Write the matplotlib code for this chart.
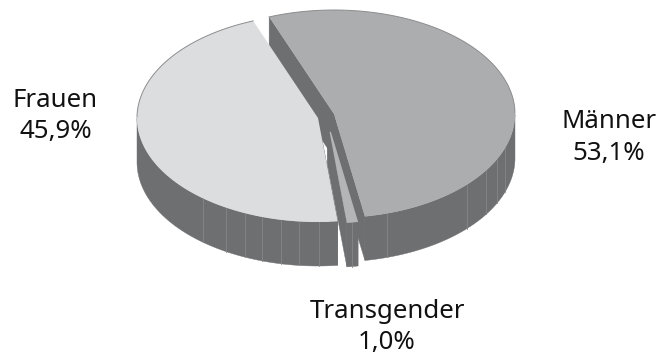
import numpy as np
import matplotlib
matplotlib.use("Agg")
import matplotlib.pyplot as plt
from matplotlib.patches import Polygon

categories = ["Männer", "Transgender", "Frauen"]
shares = [53.1, 1.0, 45.9]
labels = ["Männer\n53,1%", "Transgender\n1,0%", "Frauen\n45,9%"]

# layout: pixel canvas, projected pie
START = 111.0
RX, RY, DEPTH = 181.0, 104.0, 44.0
TIPS = {"Männer": (334, 114), "Transgender": (327.2, 119.5), "Frauen": (318, 118)}
TOP = {"Männer": "#acadaf", "Transgender": "#b4b5b7", "Frauen": "#dcddde"}
FACET_X = {"Männer": [387, 467, 486, 497, 505], "Transgender": [352],
           "Frauen": [203, 226, 245, 262, 281, 299, 319]}
WALL = "#6e6f71"
FACET = "#858688"
EDGE = "#8c8d8f"
HIDDEN_TIP = {"Männer": 0.0, "Transgender": 0.12, "Frauen": 0.0}

fig = plt.figure(figsize=(6.59, 3.59), dpi=100)
ax = fig.add_axes([0, 0, 1, 1])
ax.set_xlim(0, 659)
ax.set_ylim(359, 0)
ax.axis("off")


def pt(cx, cy, t, dz=0.0):
    r = np.radians(t)
    return cx + RX * np.cos(r), cy - RY * np.sin(r) + dz


spans = {}
a = START
for c, s in zip(categories, shares):
    spans[c] = (a, a - s * 3.6)
    a -= s * 3.6


def arc(c, t0, t1, dz=0.0, n=120):
    ts = np.linspace(t0, t1, n)
    cx, cy = TIPS[c]
    return np.column_stack(pt(cx, cy, ts, dz))


def draw_cut(c, t, z):
    cx, cy = TIPS[c]
    p = pt(cx, cy, t)
    ax.add_patch(Polygon([(cx, cy), p, (p[0], p[1] + DEPTH), (cx, cy + DEPTH)],
                         closed=True, fc=WALL, ec=WALL, lw=0.3, zorder=z))


def draw_outer(c, z):
    t0, t1 = spans[c]
    lo, hi = max(t1, -180), min(t0, 0)
    up = arc(c, hi, lo)
    dn = arc(c, lo, hi, DEPTH)
    ax.add_patch(Polygon(np.vstack([up, dn]), closed=True, fc=WALL, ec=WALL, lw=0.3, zorder=z))
    cx, cy = TIPS[c]
    for x in FACET_X[c]:
        r = (x - cx) / RX
        y = cy + RY * np.sqrt(1 - r * r)
        ax.plot([x, x], [y, y + DEPTH], color=FACET, lw=0.6, zorder=z + 0.1)


def draw_top(c, z):
    t0, t1 = spans[c]
    cx, cy = TIPS[c]
    rim = arc(c, t0, t1)
    f = HIDDEN_TIP[c]
    if f > 0:
        # the pointed end is covered by the neighbouring walls
        ax.add_patch(Polygon(np.vstack([[(cx, cy)], rim]), closed=True, fc=WALL, ec="none", zorder=z))
        inner = np.array([(cx, cy)]) + f * (rim[[-1, 0]] - np.array([(cx, cy)]))
        pts = np.vstack([inner[1], rim, inner[0]])
    else:
        pts = np.vstack([[(cx, cy)], rim])
    ax.add_patch(Polygon(pts, closed=True, fc=TOP[c], ec="none", zorder=z + 0.05))
    ts = np.linspace(t0, t1, 240)
    back = ts[np.sin(np.radians(ts)) > 0]
    if back.size:
        runs = np.split(back, np.where(np.diff(back) < -2)[0] + 1)
        for run in runs:
            ax.plot(*pt(cx, cy, run), color=EDGE, lw=0.7, zorder=z + 0.1)


# walls, back to front, then the tops
draw_cut("Männer", spans["Männer"][0], 1)
draw_cut("Männer", spans["Männer"][1], 1)
draw_outer("Männer", 2)
draw_cut("Frauen", spans["Frauen"][0], 3)
draw_outer("Frauen", 4)
draw_top("Männer", 5)
draw_top("Frauen", 6)
draw_cut("Transgender", spans["Transgender"][1], 7)
draw_outer("Transgender", 8)
draw_top("Transgender", 9)

LABEL_POS = [(609, 137.5), (387, 327), (55.5, 116)]
for lab, (x, y) in zip(labels, LABEL_POS):
    ax.text(x, y, lab, ha="center", va="center", fontsize=18.6, color="#111111",
            family=['Noto Sans', 'DejaVu Sans'], linespacing=1.32)

fig.savefig("out.png", dpi=100, facecolor="white")
